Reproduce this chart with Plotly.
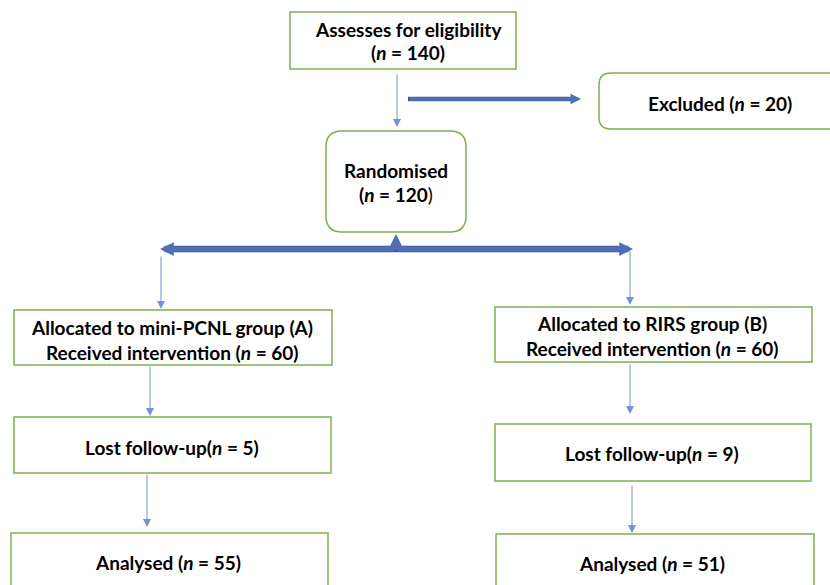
import plotly.graph_objects as go

# ---- data (flow counts) ----
stage_labels = ["Assesses for eligibility", "Excluded", "Randomised",
                "Allocated to mini-PCNL group (A)", "Allocated to RIRS group (B)",
                "Lost follow-up", "Lost follow-up", "Analysed", "Analysed"]
stage_counts = [140, 20, 120, 60, 60, 5, 9, 55, 51]

# ---- layout geometry (pixels) ----
W, H = 830, 585
GREEN = "#7DAF4E"
THIN = "#7391D6"
THICK = "#4E6FB5"
FONT = "Lato"

boxes = [  # x0, x1, y0, y1, radius
    (290, 516, 12, 69, 0),
    (599, 840, 73, 129, 12),
    (326, 466, 131, 232, 16),
    (14, 332, 310, 365, 0),
    (495, 812, 307, 362, 0),
    (14, 331, 417, 473, 0),
    (495, 811, 424, 481, 0),
    (11, 328, 533, 600, 0),
    (496, 814, 534, 600, 0),
]

def rrect(x0, x1, y0, y1, r):
    if r == 0:
        return dict(type="rect", x0=x0, x1=x1, y0=y0, y1=y1)
    p = (f"M {x0+r},{y0} L {x1-r},{y0} Q {x1},{y0} {x1},{y0+r} "
         f"L {x1},{y1-r} Q {x1},{y1} {x1-r},{y1} L {x0+r},{y1} "
         f"Q {x0},{y1} {x0},{y1-r} L {x0},{y0+r} Q {x0},{y0} {x0+r},{y0} Z")
    return dict(type="path", path=p)

shapes = []
for (x0, x1, y0, y1, r) in boxes:
    s = rrect(x0, x1, y0, y1, r)
    s.update(xref="x", yref="y", line=dict(color=GREEN, width=1.5), fillcolor="white", layer="below")
    shapes.append(s)

def ntext(c):
    return f"<i>n</i> = {c}"

texts = [  # x, y, text, size
    (408, 29, f"<b>{stage_labels[0]}</b>", 19),
    (408, 52, f"<b>({ntext(stage_counts[0])})</b>", 19),
    (720, 103, f"<b>{stage_labels[1]} ({ntext(stage_counts[1])})</b>", 19),
    (396, 170, f"<b>{stage_labels[2]}</b>", 19),
    (396, 194, f"<b>({ntext(stage_counts[2])}</b>)", 19),
    (172, 327, f"<b>{stage_labels[3]}</b>", 19),
    (172, 352, f"<b>Received intervention ({ntext(stage_counts[3])})</b>", 19),
    (652, 323, f"<b>{stage_labels[4]}</b>", 19),
    (652, 348, f"<b>Received intervention ({ntext(stage_counts[4])})</b>", 19),
    (172, 447, f"<b>{stage_labels[5]}({ntext(stage_counts[5])})</b>", 19),
    (652, 453, f"<b>{stage_labels[6]}({ntext(stage_counts[6])})</b>", 19),
    (168, 562, f"<b>{stage_labels[7]} ({ntext(stage_counts[7])})</b>", 19),
    (652, 563, f"<b>{stage_labels[8]} ({ntext(stage_counts[8])})</b>", 19),
]

annotations = []
for (x, y, t, sz) in texts:
    annotations.append(dict(x=x, y=y, xref="x", yref="y", text=t, showarrow=False,
                            font=dict(family=FONT, size=sz, color="black"),
                            xanchor="center", yanchor="middle"))

def arrow(x_tail, y_tail, x_head, y_head, color, width, size, head=2):
    return dict(x=x_head, y=y_head, ax=x_tail, ay=y_tail, xref="x", yref="y",
                axref="x", ayref="y", text="", showarrow=True, arrowhead=head,
                arrowsize=size, arrowwidth=width, arrowcolor=color, standoff=0, startstandoff=0)

# thin arrows
annotations += [
    arrow(397, 73, 397, 127, THIN, 1, 1.6),
    arrow(161, 255, 161, 309, THIN, 1, 1.6),
    arrow(630, 250, 630, 305, THIN, 1, 1.6),
    arrow(150, 365, 150, 416, THIN, 1, 1.6),
    arrow(630, 363, 630, 414, THIN, 1, 1.6),
    arrow(147, 473, 147, 527, THIN, 1, 1.6),
    arrow(632, 484, 632, 533, THIN, 1, 1.6),
]
# thick arrows
shapes.append(dict(type="line", x0=408, x1=576, y0=99, y1=99, xref="x", yref="y",
                   line=dict(color="#3D5A99", width=4.5)))
shapes.append(dict(type="line", x0=165, x1=628, y0=249, y1=249, xref="x", yref="y",
                   line=dict(color="#3D5A99", width=6.5)))
annotations += [
    arrow(408, 99, 581, 99, THICK, 3.5, 0.6),
    arrow(396, 249, 160, 249, THICK, 5, 0.55),
    arrow(396, 249, 633, 249, THICK, 5, 0.55),
    arrow(396, 250, 396, 234, THICK, 4, 0.8),
]

fig = go.Figure()
fig.add_trace(go.Scatter(x=[], y=[], mode="markers", showlegend=False, hoverinfo="skip"))
fig.update_layout(
    width=W, height=H, margin=dict(l=0, r=0, t=0, b=0),
    paper_bgcolor="white", plot_bgcolor="white",
    xaxis=dict(range=[0, W], visible=False, fixedrange=True),
    yaxis=dict(range=[H, 0], visible=False, fixedrange=True),
    shapes=shapes, annotations=annotations, showlegend=False,
)
fig.write_html("out.html", config={"displayModeBar": False},
               post_script="document.body.style.margin='0';document.body.style.overflow='hidden';")
